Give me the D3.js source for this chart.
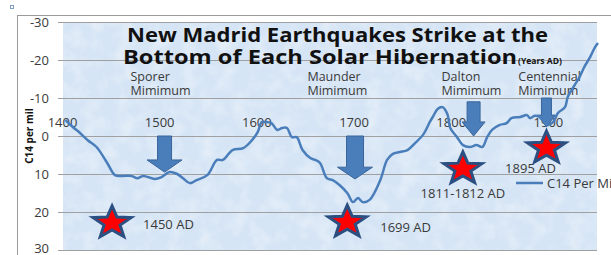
<!DOCTYPE html>
<html>
<head>
<meta charset="utf-8">
<script src="https://cdn.jsdelivr.net/npm/d3@7"></script>
<style>
  body { margin: 0; background: #fff; }
  svg { display: block; font-family: "Open Sans", Lato, sans-serif; }
  .tick-label { font-size: 13px; fill: #3a3a3a; }
  .note { font-size: 13px; fill: #3a3a3a; }
  .minima { font-size: 12.5px; fill: #3a3a3a; }
</style>
</head>
<body>
<div id="chart"></div>
<script>
// C14 curve (per mil, axis reversed so negative is up)
const years = [1403,1410,1418,1426,1435,1446,1454,1461,1471,1477,1483,1495,1502,1510,1518,1524,1531,1538,1549,1559,1565,1575,1586,1595,1601,1605,1608,1615,1621,1626,1631,1636,1641,1647,1655,1660,1665,1672,1678,1685,1693,1699,1704,1709,1716,1727,1734,1740,1747,1755,1763,1771,1778,1781,1786,1791,1796,1799,1806,1812,1819,1826,1832,1837,1842,1850,1857,1862,1871,1878,1881,1886,1891,1899,1905,1910,1917,1920,1927,1932,1937,1943,1948,1951];
const c14 = [-4.2,-2.5,-0.8,1.1,2.9,7.1,10.3,10.5,10.5,11.1,10.5,11.3,10.8,9.5,10.0,11.1,12.4,11.6,10.3,6.3,6.3,3.7,3.2,1.1,-1.1,-3.7,-3.7,-3.4,-1.6,-2.1,-2.1,0.3,0.3,3.7,5.8,6.3,7.1,11.1,11.6,12.9,15.0,17.4,16.3,17.4,16.8,11.6,6.3,4.7,4.2,3.7,1.8,-0.3,-3.7,-5.0,-7.1,-7.6,-5.8,-2.1,0.3,2.4,2.9,2.4,2.9,0.3,-1.6,-2.9,-3.4,-4.7,-5.0,-5.5,-4.7,-5.3,-5.0,-2.9,-3.7,-6.1,-7.6,-10.3,-13.4,-15.5,-18.2,-20.8,-23.4,-24.5];

const xTicks = [1400, 1500, 1600, 1700, 1800, 1900];
const yTicks = [-30, -20, -10, 0, 10, 20, 30];

// solar minima: name, label start year, arrow year, arrow top / head / tip values
const minimaNames = ["Sporer", "Maunder", "Dalton", "Centennial"];
const minimaLabelYears = [1470, 1652, 1790, 1869];
const arrowYears = [1505, 1701, 1823, 1898];
const arrowTop = [0, 0, -9, -10];
const arrowHead = [6.3, 8.2, -3.7, -5.5];
const arrowTip = [9.5, 11.3, 0, -2.4];

// earthquakes
const quakeYears = [1451, 1693, 1812, 1898];
const quakeValues = [22.6, 22.4, 8.4, 2.9];
const quakeLabels = ["1450 AD", "1699 AD", "1811-1812 AD", "1895 AD"];

const W = 611, H = 255;
const plot = { left: 63, right: 597, top: 22, bottom: 250 };

const svg = d3.select("#chart").append("svg")
    .attr("width", W)
    .attr("height", H);

const x = d3.scaleLinear().domain([1400, 1950]).range([62.5, 597]);
const y = d3.scaleLinear().domain([-30, 30]).range([plot.top, plot.bottom]);

// paper-like texture for the plot area
const defs = svg.append("defs");
const tex = defs.append("filter").attr("id", "paper")
    .attr("x", 0).attr("y", 0).attr("width", 1).attr("height", 1);
tex.append("feTurbulence")
    .attr("type", "fractalNoise")
    .attr("baseFrequency", 0.06)
    .attr("numOctaves", 3)
    .attr("seed", 4);
tex.append("feColorMatrix")
    .attr("type", "matrix")
    .attr("values", "0 0 0 0 1  0 0 0 0 1  0 0 0 0 1  0 0 0 1.3 -0.55");
tex.append("feComposite").attr("in2", "SourceGraphic").attr("operator", "in");

// outer chart frame
svg.append("rect")
    .attr("x", 17.5).attr("y", 15.5)
    .attr("width", 700).attr("height", 400)
    .attr("fill", "#fff")
    .attr("stroke", "#9a9a9a");
svg.append("rect")
    .attr("x", 10.5).attr("y", 5.5)
    .attr("width", 3).attr("height", 3)
    .attr("fill", "none")
    .attr("stroke", "#7f9fbf");

// plot background
svg.append("rect")
    .attr("x", plot.left).attr("y", plot.top)
    .attr("width", plot.right - plot.left).attr("height", plot.bottom - plot.top)
    .attr("fill", "#d6e5f5");
svg.append("rect")
    .attr("x", plot.left).attr("y", plot.top)
    .attr("width", plot.right - plot.left).attr("height", plot.bottom - plot.top)
    .attr("fill", "#fff")
    .attr("filter", "url(#paper)")
    .attr("opacity", 0.6);

// gridlines + y axis labels
const yAxis = svg.append("g")
    .attr("transform", `translate(${plot.right}, 0)`)
    .call(d3.axisLeft(y).tickValues(yTicks).tickSize(plot.right - 58).tickFormat(""));
yAxis.select(".domain").remove();
yAxis.selectAll(".tick line").attr("stroke", "#a0a0a0").attr("stroke-width", 1);

svg.append("g").selectAll("text")
    .data(yTicks)
    .enter().append("text")
    .attr("class", "tick-label")
    .attr("x", 49)
    .attr("y", d => Math.min(y(d), plot.bottom - 2))
    .attr("dy", "0.35em")
    .attr("text-anchor", "end")
    .text(d => d);

// x labels sit above the zero line
svg.append("g").selectAll("text")
    .data(xTicks)
    .enter().append("text")
    .attr("class", "tick-label")
    .attr("x", d => x(d))
    .attr("y", y(0) - 14)
    .attr("dy", "0.35em")
    .attr("text-anchor", "middle")
    .text(d => d);

svg.append("text")
    .attr("transform", `translate(33, ${y(0)}) rotate(-90)`)
    .attr("text-anchor", "middle")
    .style("font-size", "10px")
    .style("font-weight", "bold")
    .style("fill", "#111")
    .text("C14 per mil");

// title
const title = svg.append("g").style("font-weight", "bold").style("fill", "#111");
title.append("text")
    .attr("x", 127).attr("y", 42)
    .attr("textLength", 421).attr("lengthAdjust", "spacingAndGlyphs")
    .style("font-size", "20px")
    .text("New Madrid Earthquakes Strike at the");
const t2 = title.append("text").attr("x", 123).attr("y", 64);
t2.append("tspan")
    .attr("textLength", 394).attr("lengthAdjust", "spacingAndGlyphs")
    .style("font-size", "20px")
    .text("Bottom of Each Solar Hibernation");
t2.append("tspan")
    .attr("x", 518)
    .attr("textLength", 44).attr("lengthAdjust", "spacingAndGlyphs")
    .style("font-size", "8.5px")
    .text("(Years AD)");

// minima labels
minimaNames.forEach((name, i) => {
    const g = svg.append("text").attr("class", "minima");
    g.append("tspan").attr("x", x(minimaLabelYears[i])).attr("y", 81).text(name);
    g.append("tspan").attr("x", x(minimaLabelYears[i])).attr("y", 95).text("Mimimum");
});

// arrows
const shaftW = [14, 17, 13, 10];
const headW = [35, 35, 23, 18];
svg.append("g").selectAll("path")
    .data(arrowYears.map((yr, i) => ({ yr, top: arrowTop[i], head: arrowHead[i], tip: arrowTip[i], i })))
    .enter().append("path")
    .attr("d", d => {
        const cx = x(d.yr), s = shaftW[d.i] / 2, h = headW[d.i] / 2;
        return `M${cx - s},${y(d.top)} L${cx + s},${y(d.top)} L${cx + s},${y(d.head)} L${cx + h},${y(d.head)}
                L${cx},${y(d.tip)} L${cx - h},${y(d.head)} L${cx - s},${y(d.head)} Z`;
    })
    .attr("fill", "#4a7ebb")
    .attr("stroke", "#3a659a")
    .attr("stroke-width", 1);

// C14 line
const line = d3.line()
    .x(d => x(d[0]))
    .y(d => y(d[1]))
    .curve(d3.curveCatmullRom);
svg.append("path")
    .datum(years.map((yr, i) => [yr, c14[i]]))
    .attr("d", line)
    .attr("fill", "none")
    .attr("stroke", "#4a7ebb")
    .attr("stroke-width", 2.5)
    .attr("stroke-linejoin", "round");

// stars
function starPath(rx, ry) {
    const pts = [];
    for (let k = 0; k < 10; k++) {
        const a = -Math.PI / 2 + k * Math.PI / 5;
        const r = k % 2 === 0 ? 1 : 0.42;
        pts.push([Math.cos(a) * r * rx, Math.sin(a) * r * ry]);
    }
    return "M" + pts.map(p => p.join(",")).join("L") + "Z";
}
svg.append("g").selectAll("path")
    .data(quakeYears.map((yr, i) => [yr, quakeValues[i]]))
    .enter().append("path")
    .attr("transform", d => `translate(${x(d[0])}, ${y(d[1]) + 1})`)
    .attr("d", starPath(20, 17))
    .attr("fill", "#ff0000")
    .attr("stroke", "#2c4f82")
    .attr("stroke-width", 3)
    .attr("stroke-linejoin", "miter");

const labelDx = [31, 33, 0, -16];
const labelDy = [3, 6, 26, 21];
const labelAnchor = ["start", "start", "middle", "middle"];
svg.append("g").selectAll("text")
    .data(quakeLabels)
    .enter().append("text")
    .attr("class", "note")
    .attr("x", (d, i) => x(quakeYears[i]) + labelDx[i])
    .attr("y", (d, i) => y(quakeValues[i]) + labelDy[i])
    .attr("dy", "0.35em")
    .attr("text-anchor", (d, i) => labelAnchor[i])
    .text(d => d);

// legend (runs off the right edge, as in the original)
const legend = svg.append("g").attr("transform", "translate(516, 183)");
legend.append("line")
    .attr("x1", 0).attr("x2", 27)
    .attr("stroke", "#4a7ebb").attr("stroke-width", 2.5);
legend.append("text")
    .attr("class", "note")
    .attr("x", 31).attr("dy", "0.35em")
    .text("C14 Per Mil");
</script>
</body>
</html>
